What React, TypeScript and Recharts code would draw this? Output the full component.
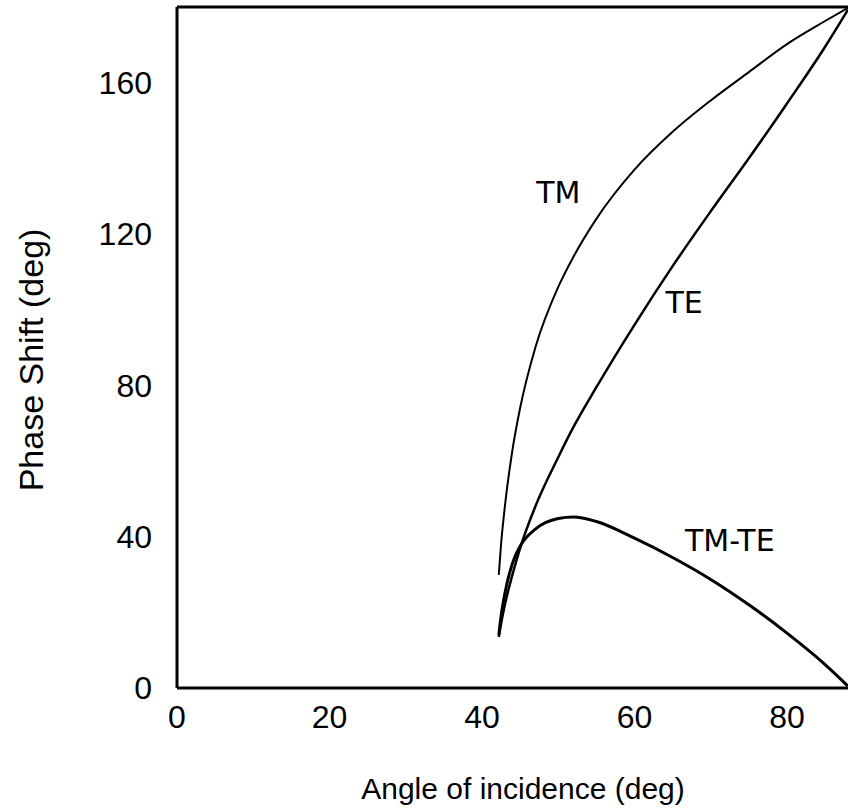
import {
  LineChart,
  Line,
  XAxis,
  YAxis,
  ReferenceLine,
  ReferenceDot,
  Label,
} from "recharts";

// angle of incidence (deg)
const angles = [42.2, 42.5, 43, 44, 45, 47, 50, 52, 55, 60, 65, 70, 75, 80, 85, 88];
// phase shift (deg)
const tm = [29.9, 38, 48, 63, 74, 90, 106, 114, 124, 137, 147, 155.3, 162.8, 170.2, 176.3, 179.8];
const te = [13.5, 17, 22, 30, 37, 48, 61, 69, 79.5, 96, 111.5, 126, 140, 154.5, 169.5, 179.3];
const tmMinusTe = [14, 19, 25, 33, 37.5, 42, 44.8, 45.2, 44, 39.6, 34.5, 28.7, 22, 14.5, 6.2, 0.5];

const xTicks = [0, 20, 40, 60, 80];
const yTicks = [0, 40, 80, 120, 160];

const data = angles.map((a, i) => ({ angle: a, tm: tm[i], te: te[i], diff: tmMinusTe[i] }));

const axisFont = "'Liberation Sans', Arial, sans-serif";
const curveFont = "'DejaVu Sans', sans-serif";

const tickStyle = { fontSize: 32, fill: "#000", fontFamily: axisFont };

function curveLabel(text: string) {
  return {
    value: text,
    position: "center" as const,
    style: { fontSize: 30, fill: "#000", fontFamily: curveFont },
  };
}

export default function App() {
  return (
    <div
      style={{
        position: "absolute",
        left: 0,
        top: 0,
        width: 848,
        height: 809,
        overflow: "hidden",
        background: "#fff",
      }}
    >
      <LineChart
        width={848}
        height={809}
        data={data}
        margin={{ top: 7, right: 0, bottom: 61, left: 0 }}
      >
        <XAxis
          dataKey="angle"
          type="number"
          domain={[0, 88]}
          ticks={xTicks}
          allowDataOverflow
          height={60}
          axisLine={{ stroke: "#000", strokeWidth: 3 }}
          tickLine={false}
          tickSize={0}
          tickMargin={17}
          tick={tickStyle}
        >
          <Label
            content={() => (
              <text
                x={523}
                y={788}
                textAnchor="middle"
                dominantBaseline="central"
                style={{ fontSize: 30, fill: "#000", fontFamily: axisFont }}
              >
                Angle of incidence (deg)
              </text>
            )}
          />
        </XAxis>
        <YAxis
          type="number"
          domain={[0, 180]}
          ticks={yTicks}
          width={177}
          axisLine={{ stroke: "#000", strokeWidth: 3 }}
          tickLine={false}
          tickSize={0}
          tickMargin={25}
          tick={tickStyle}
        >
          <Label
            content={() => (
              <text
                x={31}
                y={360}
                transform="rotate(-90 31 360)"
                textAnchor="middle"
                dominantBaseline="central"
                style={{ fontSize: 34, fill: "#000", fontFamily: axisFont }}
              >
                Phase Shift (deg)
              </text>
            )}
          />
        </YAxis>
        <ReferenceLine y={180} stroke="#000" strokeWidth={3} />
        <Line type="monotone" dataKey="tm" stroke="#000" strokeWidth={2} dot={false} isAnimationActive={false} />
        <Line type="monotone" dataKey="te" stroke="#000" strokeWidth={2.5} dot={false} isAnimationActive={false} />
        <Line type="monotone" dataKey="diff" stroke="#000" strokeWidth={3} dot={false} isAnimationActive={false} />
        <ReferenceDot x={50} y={131} r={0} label={curveLabel("TM")} />
        <ReferenceDot x={66.5} y={102} r={0} label={curveLabel("TE")} />
        <ReferenceDot x={72.5} y={39} r={0} label={curveLabel("TM-TE")} />
      </LineChart>
    </div>
  );
}
